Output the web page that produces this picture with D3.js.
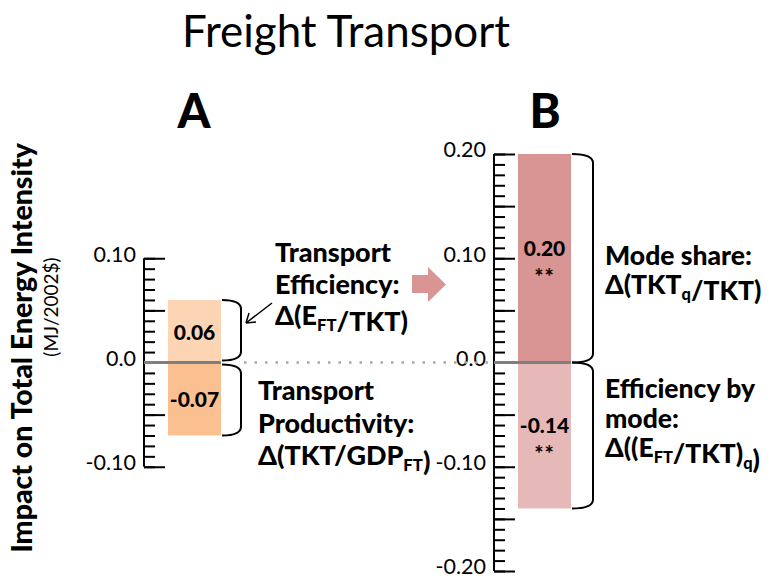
<!DOCTYPE html>
<html>
<head>
<meta charset="utf-8">
<script src="https://cdn.jsdelivr.net/npm/d3@7"></script>
<style>
  body { margin: 0; background: #fff; }
  text { font-family: Lato, "Open Sans", sans-serif; fill: #000; }
</style>
</head>
<body>
<svg id="vis-svg"></svg>
<script>
/** * * * * CONSTANTS * * * * */
const width = 770;
const height = 579;

// data
const panels = ['A', 'B'];
const valuesA = [0.06, -0.07];
const valuesB = [0.20, -0.14];
const labelsA = ['0.06', '-0.07'];
const labelsB = ['0.20', '-0.14'];
const starsB = ['**', '**'];
const colorsA = ['#FCD5B5', '#FAC090'];
const colorsB = ['#D99594', '#E6B9B8'];
const ticksA = [0.10, 0.0, -0.10];
const ticksB = [0.20, 0.10, 0.0, -0.10, -0.20];
const domainA = [-0.10, 0.10];
const domainB = [-0.20, 0.20];

const svg = d3.select('#vis-svg')
  .attr('width', width)
  .attr('height', height);

// shared value scale (both panels use same px per unit)
const yScale = d3.scaleLinear()
  .domain([-0.20, 0.20])
  .range([571, 154]);

// axis position of each panel
const xPanel = d3.scalePoint()
  .domain(panels)
  .range([144, 494]);

const barOffset = 24;
const barWidth = 53;

function tickFmt(d) {
  return Math.abs(d) < 1e-9 ? '0.0' : d.toFixed(2);
}

// scale font so a text fits the width it has in the picture
function fit(sel, target) {
  let size = parseFloat(sel.style('font-size'));
  let w = sel.node().getComputedTextLength();
  let s = size * target / w;
  sel.style('font-size', s + 'px');
  return s;
}

function range(lo, hi, step) {
  let out = [];
  for (let i = Math.round(lo / step); i <= Math.round(hi / step); i++) out.push(+(i * step).toFixed(2));
  return out;
}

function drawPanel(name, domain, ticks, values, labels, colors, stars) {
  let ax = xPanel(name);
  let g = svg.append('g').attr('class', 'panel-' + name);

  let minor = range(domain[0], domain[1], 0.01);
  let major = minor.filter(d => Math.abs(Math.round(d * 100) % 5) === 0);

  // bars
  g.selectAll('rect.bar')
    .data(values)
    .enter()
    .append('rect')
    .attr('class', 'bar')
    .attr('x', ax + barOffset)
    .attr('width', barWidth)
    .attr('y', d => yScale(Math.max(0, d)))
    .attr('height', d => Math.abs(yScale(d) - yScale(0)))
    .attr('fill', (d, i) => colors[i]);

  // short ticks
  let minorAxis = g.append('g')
    .attr('transform', `translate(${ax},0)`)
    .call(d3.axisRight(yScale).tickValues(minor).tickSize(11).tickFormat(''));
  minorAxis.select('.domain').remove();

  // long ticks + axis line
  let majorAxis = g.append('g')
    .attr('transform', `translate(${ax},0)`)
    .call(d3.axisRight(yScale).tickValues(major).tickSize(21).tickSizeOuter(0).tickFormat(''));
  majorAxis.select('.domain')
    .attr('d', `M0,${yScale(domain[1])}V${yScale(domain[0])}`);
  g.selectAll('.tick line, .domain')
    .attr('stroke', '#000')
    .attr('stroke-width', 2);

  // tick labels
  let labelAxis = g.append('g')
    .attr('transform', `translate(${ax},-4)`)
    .call(d3.axisLeft(yScale).tickValues(ticks).tickSize(0).tickPadding(8).tickFormat(tickFmt));
  labelAxis.select('.domain').remove();
  labelAxis.selectAll('text')
    .style('font-family', 'Lato, sans-serif')
    .style('font-size', '21.5px')
    .attr('fill', '#000');

  // zero line
  g.append('line')
    .attr('x1', ax)
    .attr('x2', ax + barOffset + barWidth)
    .attr('y1', yScale(0))
    .attr('y2', yScale(0))
    .attr('stroke', '#7f7f7f')
    .attr('stroke-width', 3);

  // value labels
  values.forEach(function(v, i) {
    let mid = (yScale(v) + yScale(0)) / 2;
    let cx = ax + barOffset + barWidth / 2;
    let shift = stars ? -11 : 0;
    g.append('text')
      .attr('x', cx)
      .attr('y', mid + shift)
      .attr('text-anchor', 'middle')
      .attr('dominant-baseline', 'central')
      .style('font-weight', '900')
      .style('font-size', '21px')
      .text(labels[i]);
    if (stars) {
      g.append('text')
        .attr('x', cx)
        .attr('y', mid + 18)
        .attr('text-anchor', 'middle')
        .attr('dominant-baseline', 'central')
        .style('font-size', '22px')
        .style('font-weight', 'bold')
        .style('letter-spacing', '1px')
        .text(stars[i]);
    }
  });

  // braces
  let x0 = ax + barOffset + barWidth + 1;
  let x1 = x0 + (name === 'A' ? 19 : 21);
  let r = 9;
  values.forEach(function(v) {
    let top = Math.min(yScale(v), yScale(0));
    let bot = Math.max(yScale(v), yScale(0));
    if (name === 'A') {
      if (v > 0) bot -= 2; else top += 2;
    }
    g.append('path')
      .attr('d', `M${x0},${top}Q${x1},${top} ${x1},${top + r}L${x1},${bot - r}Q${x1},${bot} ${x0},${bot}`)
      .attr('fill', 'none')
      .attr('stroke', '#000')
      .attr('stroke-width', 2);
  });

  // panel letter
  svg.append('text')
    .attr('x', name === 'A' ? 194 : 545)
    .attr('y', 128)
    .attr('text-anchor', 'middle')
    .style('font-weight', '900')
    .style('font-size', '47px')
    .text(name);
}

drawPanel('A', domainA, ticksA, valuesA, labelsA, colorsA, null);
drawPanel('B', domainB, ticksB, valuesB, labelsB, colorsB, starsB);

// dotted link between the zero lines
svg.append('line')
  .attr('x1', xPanel('A') + barOffset + barWidth + 23)
  .attr('x2', xPanel('B') - 6)
  .attr('y1', yScale(0))
  .attr('y2', yScale(0))
  .attr('stroke', '#a6a6a6')
  .attr('stroke-width', 2.5)
  .attr('stroke-dasharray', '2.5,8');

// title
let title = svg.append('text')
  .attr('x', 346)
  .attr('y', 47)
  .attr('text-anchor', 'middle')
  .style('font-size', '40px')
  .text('Freight Transport');
fit(title, 328);

// y axis title
let yt = svg.append('text')
  .attr('transform', 'translate(32,348) rotate(-90)')
  .attr('text-anchor', 'middle')
  .style('font-weight', '900')
  .style('font-size', '22px')
  .text('Impact on Total Energy Intensity');
fit(yt, 410);
svg.append('text')
  .attr('transform', 'translate(58,307) rotate(-90)')
  .attr('text-anchor', 'middle')
  .style('font-size', '19px')
  .text('(MJ/2002$)');

// side annotations (lines of [text, sub, text, sub, text]); first line sets the size
function block(x, y0, lh, firstWidth, lines) {
  let t = svg.append('g');
  let size = 22;
  lines.forEach(function(parts, i) {
    let tx = t.append('text')
      .attr('x', x)
      .attr('y', y0 + i * lh)
      .style('font-weight', '900')
      .style('font-size', size + 'px');
    parts.forEach(function(p, k) {
      if (k % 2 === 0) {
        tx.append('tspan').text(p);
      } else {
        tx.append('tspan')
          .style('font-size', (size * 0.62) + 'px')
          .attr('dy', size * 0.22)
          .text(p);
        tx.append('tspan').attr('dy', -size * 0.22).text('');
      }
    });
    if (i === 0) size = fit(tx, firstWidth);
  });
}

block(275, 262, 31.5, 116, [['Transport'], ['Efficiency:'], ['\u0394(E', 'FT', '/TKT)']]);
block(258, 400, 32.5, 116, [['Transport'], ['Productivity:'], ['\u0394(TKT/GDP', 'FT', ')']]);
block(605, 265, 29, 147, [['Mode share:'], ['\u0394(TKT', 'q', '/TKT)']]);
block(605, 398, 29.5, 150, [['Efficiency by'], ['mode:'], ['\u0394((E', 'FT', '/TKT)', 'q', ')']]);

// thin pointer arrow in panel A
svg.append('path')
  .attr('d', 'M272,303L246,323M246,323L256,322M246,323L249,313')
  .attr('fill', 'none')
  .attr('stroke', '#000')
  .attr('stroke-width', 1.5);

// block arrow between panels
svg.append('path')
  .attr('d', 'M412,275H428V267L446,284.5L428,302V293H412Z')
  .attr('fill', '#D99594');
</script>
</body>
</html>
